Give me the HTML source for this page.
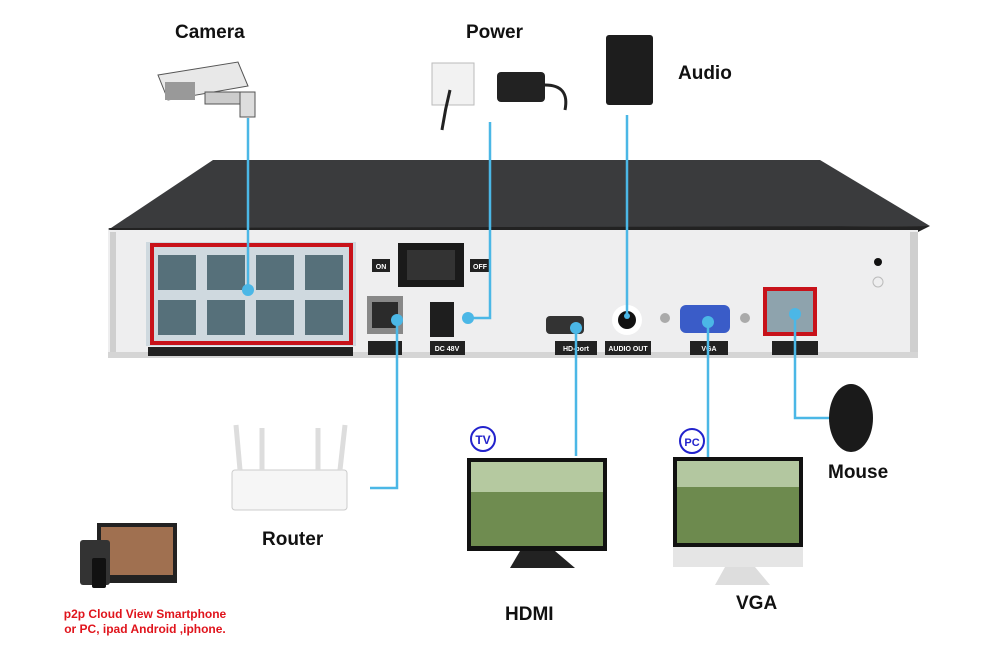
<!DOCTYPE html>
<html><head><style>
body{margin:0;background:#fff;}
svg{display:block;font-family:"Liberation Sans",Arial,sans-serif;}
</style></head><body>
<svg width="1000" height="655" viewBox="0 0 1000 655">
<!-- device top -->
<polygon points="213,160 820,160 930,226 108,230" fill="#3a3b3d"/>
<polygon points="108,228 930,226 918,232 118,234" fill="#222"/>
<rect x="108" y="230" width="810" height="128" fill="#eeeeef"/>
<rect x="110" y="232" width="6" height="124" fill="#cfcfcf"/>
<rect x="910" y="232" width="8" height="124" fill="#cfcfcf"/>
<rect x="108" y="352" width="810" height="6" fill="#d5d5d5"/>
<!-- ports -->
<rect x="146" y="242" width="210" height="104" fill="#cfd9df"/>
<g fill="#56707a">
<rect x="158" y="255" width="38" height="35"/><rect x="207" y="255" width="38" height="35"/><rect x="256" y="255" width="38" height="35"/><rect x="305" y="255" width="38" height="35"/>
<rect x="158" y="300" width="38" height="35"/><rect x="207" y="300" width="38" height="35"/><rect x="256" y="300" width="38" height="35"/><rect x="305" y="300" width="38" height="35"/>
</g>
<rect x="152" y="245" width="199" height="98" fill="none" stroke="#c8121a" stroke-width="4"/>
<rect x="148" y="347" width="205" height="9" fill="#222"/>
<!-- switch -->
<rect x="398" y="243" width="66" height="44" fill="#1a1a1a"/>
<rect x="407" y="250" width="48" height="30" fill="#333"/>
<rect x="372" y="259" width="18" height="13" fill="#222"/><text x="381" y="269" font-size="7" fill="#fff" text-anchor="middle" font-weight="bold">ON</text>
<rect x="470" y="259" width="20" height="13" fill="#222"/><text x="480" y="269" font-size="7" fill="#fff" text-anchor="middle" font-weight="bold">OFF</text>
<!-- LAN -->
<rect x="367" y="296" width="36" height="38" fill="#888"/><rect x="372" y="302" width="26" height="26" fill="#2b2b2b"/>
<rect x="368" y="341" width="34" height="14" fill="#222"/>
<rect x="430" y="302" width="24" height="35" fill="#1e1e1e"/>
<rect x="430" y="341" width="35" height="14" fill="#222"/><text x="447" y="351" font-size="7" fill="#fff" text-anchor="middle" font-weight="bold">DC 48V</text>
<!-- HDMI -->
<rect x="546" y="316" width="38" height="18" rx="4" fill="#333"/>
<rect x="555" y="341" width="42" height="14" fill="#222"/><text x="576" y="351" font-size="7" fill="#fff" text-anchor="middle" font-weight="bold">HD-port</text>
<circle cx="627" cy="320" r="15" fill="#fff"/><circle cx="627" cy="320" r="9" fill="#111"/>
<rect x="605" y="341" width="46" height="14" fill="#222"/><text x="628" y="351" font-size="7" fill="#fff" text-anchor="middle" font-weight="bold">AUDIO OUT</text>
<rect x="680" y="305" width="50" height="28" rx="6" fill="#3a5cc8"/>
<circle cx="665" cy="318" r="5" fill="#aaa"/><circle cx="745" cy="318" r="5" fill="#aaa"/>
<rect x="690" y="341" width="38" height="14" fill="#222"/><text x="709" y="351" font-size="7" fill="#fff" text-anchor="middle" font-weight="bold">VGA</text>
<rect x="766" y="288" width="50" height="46" fill="#8ea3ad"/>
<rect x="765" y="289" width="50" height="45" fill="none" stroke="#c8121a" stroke-width="4"/>
<rect x="772" y="341" width="46" height="14" fill="#222"/>
<circle cx="878" cy="262" r="4" fill="#111"/><circle cx="878" cy="282" r="5" fill="none" stroke="#bbb"/>
<!-- connectors -->
<g stroke="#4bb7e6" stroke-width="2.5" fill="none">
<path d="M248 118 V290"/>
<path d="M490 122 V318 H470"/>
<path d="M627 115 V318"/>
<path d="M397 318 V488 H370"/>
<path d="M576 326 V456"/>
<path d="M708 320 V462"/>
<path d="M795 316 V418 H830"/>
</g>
<g fill="#4bb7e6">
<circle cx="248" cy="290" r="6"/><circle cx="468" cy="318" r="6"/><circle cx="627" cy="316" r="3"/><circle cx="397" cy="320" r="6"/><circle cx="576" cy="328" r="6"/><circle cx="708" cy="322" r="6"/><circle cx="795" cy="314" r="6"/>
</g>
<!-- camera -->
<polygon points="158,75 238,62 248,86 168,100" fill="#e8e8e8" stroke="#555"/>
<rect x="165" y="82" width="30" height="18" fill="#999"/>
<rect x="205" y="92" width="50" height="12" fill="#ccc" stroke="#555"/>
<rect x="240" y="92" width="15" height="25" fill="#ddd" stroke="#555"/>
<!-- power -->
<rect x="432" y="63" width="42" height="42" fill="#f2f2f2" stroke="#bbb"/>
<path d="M450 90 q-5 20 -8 40" stroke="#222" stroke-width="3" fill="none"/>
<rect x="497" y="72" width="48" height="30" rx="4" fill="#222"/>
<path d="M545 85 q25 0 20 25" stroke="#222" stroke-width="3" fill="none"/>
<!-- speaker -->
<rect x="606" y="35" width="47" height="70" rx="3" fill="#1d1d1d"/>
<!-- router -->
<rect x="232" y="470" width="115" height="40" rx="3" fill="#f6f6f6" stroke="#ccc"/>
<g stroke="#ddd" stroke-width="5"><path d="M240 470 L236 425"/><path d="M262 470 L262 428"/><path d="M318 470 L318 428"/><path d="M340 470 L345 425"/></g>
<!-- TV -->
<rect x="467" y="458" width="140" height="93" fill="#111"/>
<rect x="471" y="462" width="132" height="84" fill="#6f8c50"/>
<rect x="471" y="462" width="132" height="30" fill="#b5c9a0"/>
<path d="M520 551 L510 568 H575 L555 551 Z" fill="#222"/>
<circle cx="483" cy="439" r="12" fill="#fff" stroke="#2222cc" stroke-width="2"/><text x="483" y="444" font-size="12" font-weight="bold" fill="#2222cc" text-anchor="middle">TV</text>
<!-- PC -->
<rect x="673" y="457" width="130" height="90" fill="#111"/>
<rect x="677" y="461" width="122" height="82" fill="#6d8a4e"/>
<rect x="677" y="461" width="122" height="26" fill="#b3c7a0"/>
<rect x="673" y="547" width="130" height="20" fill="#e5e5e5"/>
<path d="M725 567 L715 585 H770 L755 567 Z" fill="#ddd"/>
<circle cx="692" cy="441" r="12" fill="#fff" stroke="#2222cc" stroke-width="2"/><text x="692" y="446" font-size="11" font-weight="bold" fill="#2222cc" text-anchor="middle">PC</text>
<!-- mouse -->
<ellipse cx="851" cy="418" rx="22" ry="34" fill="#1a1a1a"/>
<!-- devices -->
<rect x="97" y="523" width="80" height="60" fill="#222"/><rect x="101" y="527" width="72" height="48" fill="#a07050"/>
<rect x="80" y="540" width="30" height="45" rx="3" fill="#333"/>
<rect x="92" y="558" width="14" height="30" rx="2" fill="#111"/>
<!-- labels -->
<g font-weight="bold" fill="#111" font-size="19">
<text x="175" y="38">Camera</text>
<text x="466" y="38">Power</text>
<text x="678" y="79">Audio</text>
<text x="828" y="478">Mouse</text>
<text x="262" y="545">Router</text>
<text x="505" y="620">HDMI</text>
<text x="736" y="609">VGA</text>
</g>
<text x="145" y="618" font-size="12" font-weight="bold" fill="#e0141c" text-anchor="middle">p2p Cloud  View Smartphone</text>
<text x="145" y="633" font-size="12" font-weight="bold" fill="#e0141c" text-anchor="middle">or PC, ipad Android ,iphone.</text>
</svg>
</body></html>
